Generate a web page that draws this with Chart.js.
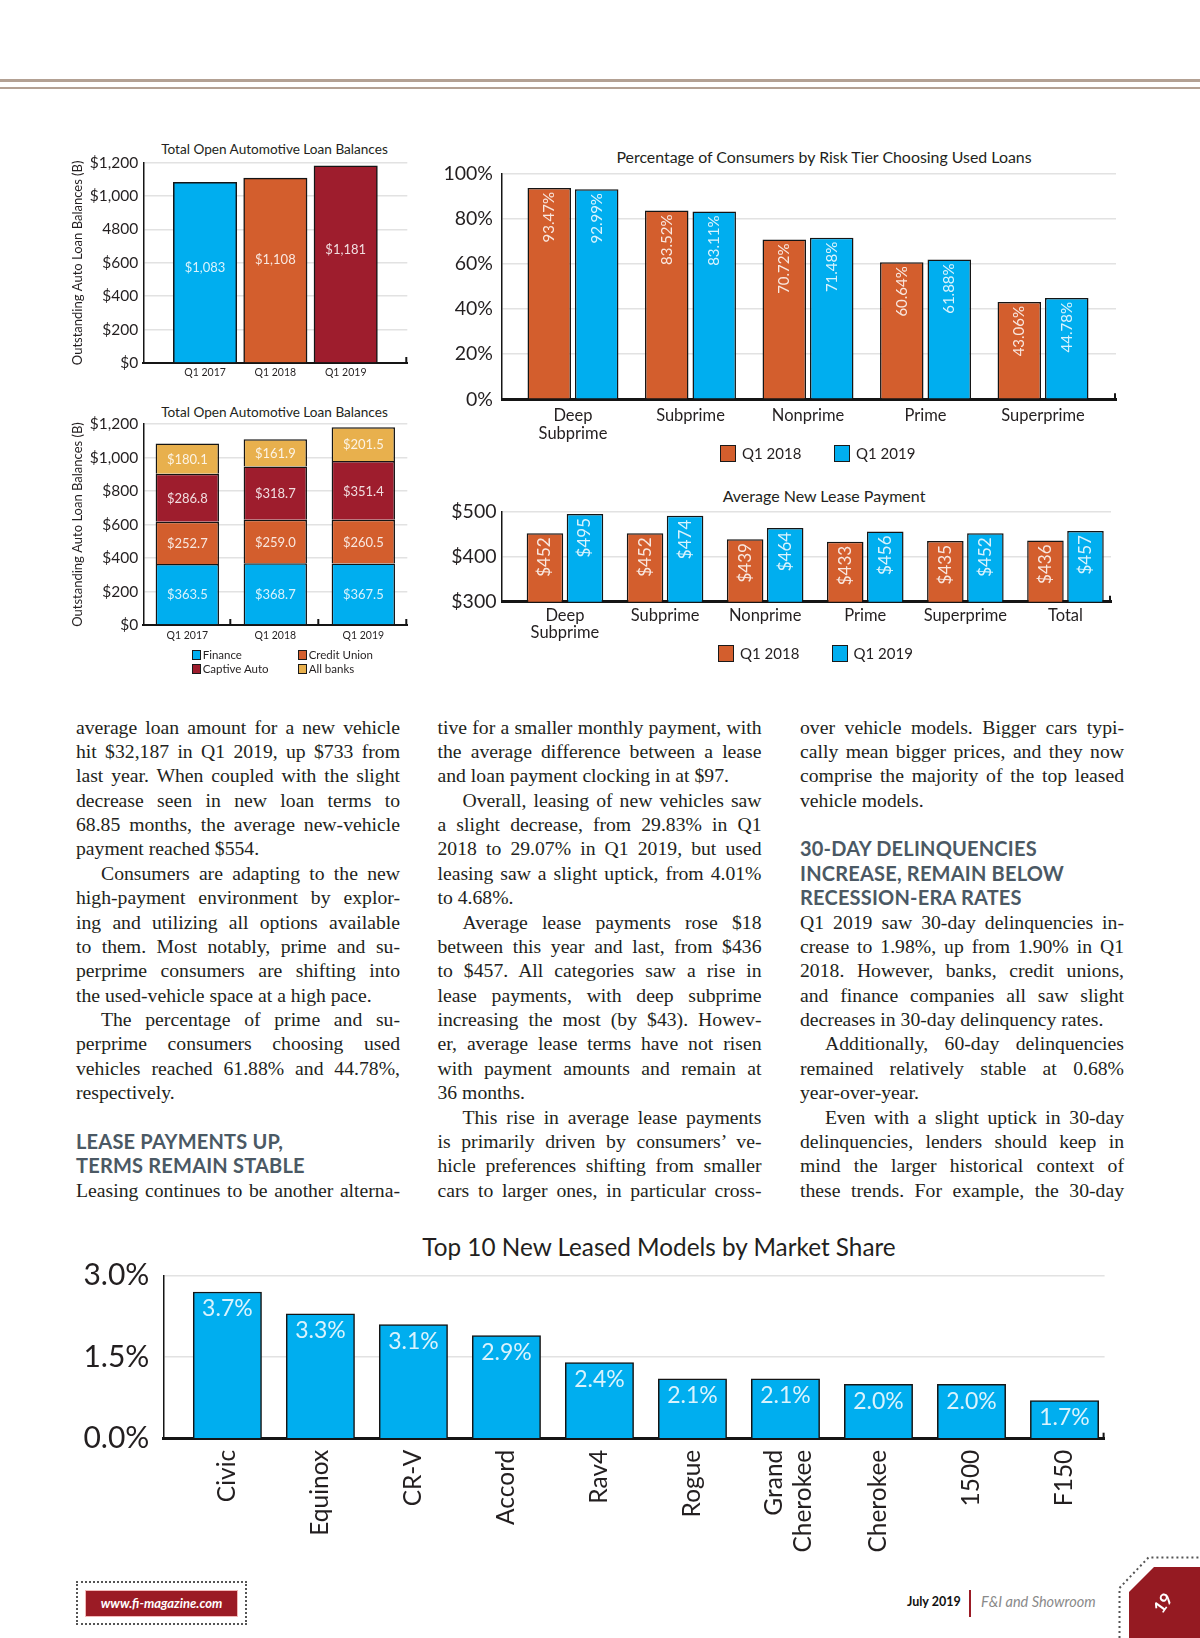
<!DOCTYPE html>
<html>
<head>
<meta charset="utf-8">
<title>F&amp;I and Showroom – July 2019 – page 19</title>
<script src="https://cdn.jsdelivr.net/npm/chart.js@4.4.1/dist/chart.umd.min.js"></script>
<style>
  body { margin: 0; background: #fff; }
  #page { position: relative; width: 1200px; height: 1638px; overflow: hidden; background: #fff; color: #231f20; font-family: Lato, sans-serif; }
  canvas { position: absolute; }
  .rule { position: absolute; left: 0; width: 1200px; background: #b3a194; }
  .ctitle { position: absolute; text-align: center; white-space: nowrap; color: #231f20; }
  .lg { position: absolute; white-space: nowrap; color: #231f20; }
  .lg i { position: absolute; border: 1.5px solid #1a1a1a; box-sizing: border-box; }
  .col { position: absolute; top: 714.5px; width: 324px; font-family: 'Liberation Serif', serif; font-size: 19.7px; line-height: 24.38px; color: #231f20; }
  .col div { white-space: nowrap; height: 24.38px; }
  .j { text-align: justify; text-align-last: justify; }
  .in { text-indent: 25px; }
  .h { font-family: Lato, sans-serif; font-weight: 700; font-size: 20px; color: #4b5964; letter-spacing: 0.2px; }
  .site { position: absolute; left: 76px; top: 1581px; width: 171px; height: 44px; border: 2px dotted #555; box-sizing: border-box; }
  .site span { position: absolute; left: 8px; top: 8px; width: 151px; height: 25px; background: #9b1b25; outline: 1px solid #f2b8b8; color: #fff; font: italic 700 13px Lato, sans-serif; line-height: 25px; text-align: center; }
  .issue { position: absolute; top: 1594px; font: 700 12.5px Lato, sans-serif; color: #111; }
  .mag { position: absolute; left: 981px; top: 1593px; font: italic 14.5px Lato, sans-serif; color: #8a8a8a; }
</style>
</head>
<body>
<div id="page">
  <div class="rule" style="top:79px;height:2.5px"></div>
  <div class="rule" style="top:87px;height:1.5px"></div>

  <div class="ctitle" style="left:74.5px;width:400px;top:140.5px;font-size:13.6px;line-height:17px">Total Open Automotive Loan Balances</div>
  <div class="ctitle" style="left:74.5px;width:400px;top:403.5px;font-size:13.6px;line-height:17px">Total Open Automotive Loan Balances</div>
  <div class="ctitle" style="left:524px;width:600px;top:146.7px;font-size:15.9px;line-height:20px">Percentage of Consumers by Risk Tier Choosing Used Loans</div>
  <div class="ctitle" style="left:524px;width:600px;top:486px;font-size:16px;line-height:20px">Average New Lease Payment</div>
  <div class="ctitle" style="left:359px;width:600px;top:1232px;font-size:24.3px;line-height:30px">Top 10 New Leased Models by Market Share</div>

  <canvas id="loanTotal"></canvas>
  <canvas id="loanStack"></canvas>
  <canvas id="usedLoans"></canvas>
  <canvas id="leasePay"></canvas>
  <canvas id="topModels"></canvas>

  <div class="col" style="left:76px">
    <div class="j">average loan amount for a new vehicle</div>
    <div class="j">hit $32,187 in Q1 2019, up $733 from</div>
    <div class="j">last year. When coupled with the slight</div>
    <div class="j">decrease seen in new loan terms to</div>
    <div class="j">68.85 months, the average new-vehicle</div>
    <div>payment reached $554.</div>
    <div class="j in">Consumers are adapting to the new</div>
    <div class="j">high-payment environment by explor-</div>
    <div class="j">ing and utilizing all options available</div>
    <div class="j">to them. Most notably, prime and su-</div>
    <div class="j">perprime consumers are shifting into</div>
    <div>the used-vehicle space at a high pace.</div>
    <div class="j in">The percentage of prime and su-</div>
    <div class="j">perprime consumers choosing used</div>
    <div class="j">vehicles reached 61.88% and 44.78%,</div>
    <div>respectively.</div>
    <div>&nbsp;</div>
    <div class="h">LEASE PAYMENTS UP,</div>
    <div class="h">TERMS REMAIN STABLE</div>
    <div class="j">Leasing continues to be another alterna-</div>
  </div>

  <div class="col" style="left:437.5px">
    <div class="j">tive for a smaller monthly payment, with</div>
    <div class="j">the average difference between a lease</div>
    <div>and loan payment clocking in at $97.</div>
    <div class="j in">Overall, leasing of new vehicles saw</div>
    <div class="j">a slight decrease, from 29.83% in Q1</div>
    <div class="j">2018 to 29.07% in Q1 2019, but used</div>
    <div class="j">leasing saw a slight uptick, from 4.01%</div>
    <div>to 4.68%.</div>
    <div class="j in">Average lease payments rose $18</div>
    <div class="j">between this year and last, from $436</div>
    <div class="j">to $457. All categories saw a rise in</div>
    <div class="j">lease payments, with deep subprime</div>
    <div class="j">increasing the most (by $43). Howev-</div>
    <div class="j">er, average lease terms have not risen</div>
    <div class="j">with payment amounts and remain at</div>
    <div>36 months.</div>
    <div class="j in">This rise in average lease payments</div>
    <div class="j">is primarily driven by consumers’ ve-</div>
    <div class="j">hicle preferences shifting from smaller</div>
    <div class="j">cars to larger ones, in particular cross-</div>
  </div>

  <div class="col" style="left:800px">
    <div class="j">over vehicle models. Bigger cars typi-</div>
    <div class="j">cally mean bigger prices, and they now</div>
    <div class="j">comprise the majority of the top leased</div>
    <div>vehicle models.</div>
    <div>&nbsp;</div>
    <div class="h">30-DAY DELINQUENCIES</div>
    <div class="h">INCREASE, REMAIN BELOW</div>
    <div class="h">RECESSION-ERA RATES</div>
    <div class="j">Q1 2019 saw 30-day delinquencies in-</div>
    <div class="j">crease to 1.98%, up from 1.90% in Q1</div>
    <div class="j">2018. However, banks, credit unions,</div>
    <div class="j">and finance companies all saw slight</div>
    <div>decreases in 30-day delinquency rates.</div>
    <div class="j in">Additionally, 60-day delinquencies</div>
    <div class="j">remained relatively stable at 0.68%</div>
    <div>year-over-year.</div>
    <div class="j in">Even with a slight uptick in 30-day</div>
    <div class="j">delinquencies, lenders should keep in</div>
    <div class="j">mind the larger historical context of</div>
    <div class="j">these trends. For example, the 30-day</div>
  </div>

  <div class="site"><span>www.fi-magazine.com</span></div>
  <div class="issue" style="left:907px">July 2019</div>
  <div style="position:absolute;left:969px;top:1590px;width:2px;height:27px;background:#9b1b25"></div>
  <div class="mag">F&amp;I and Showroom</div>
  <svg style="position:absolute;left:0;top:0" width="1200" height="1638">
    <polygon points="1129,1638 1129,1592 1154,1567 1200,1567 1200,1638" fill="#951a22"/>
    <polyline points="1119.5,1638 1119.5,1588 1148.5,1557.5 1200,1557.5" fill="none" stroke="#555" stroke-width="2" stroke-dasharray="2 3"/>
    <text x="1163" y="1609" fill="#fff" font-family="Lato" font-weight="700" font-size="17" text-anchor="middle" transform="rotate(-55 1163 1603)">19</text>
  </svg>
</div>

<script>
// Total open automotive loan balances ($B)
const years = ['Q1 2017', 'Q1 2018', 'Q1 2019'];
const loanTotals = [1083, 1108, 1181];
const loanTicksTotal = ['$0', '$200', '$400', '$600', '4800', '$1,000', '$1,200'];
const loanTicksStack = ['$0', '$200', '$400', '$600', '$800', '$1,000', '$1,200'];

// same totals split by lender type
const lenders = ['Finance', 'Credit Union', 'Captive Auto', 'All banks'];
const finance = [363.5, 368.7, 367.5];
const creditUnion = [252.7, 259.0, 260.5];
const captiveAuto = [286.8, 318.7, 351.4];
const allBanks = [180.1, 161.9, 201.5];

// used loans share by risk tier
const quarters = ['Q1 2018', 'Q1 2019'];
const tiers = [['Deep', 'Subprime'], 'Subprime', 'Nonprime', 'Prime', 'Superprime'];
const used2018 = [93.47, 83.52, 70.72, 60.64, 43.06];
const used2019 = [92.99, 83.11, 71.48, 61.88, 44.78];
const usedTicks = ['0%', '20%', '40%', '60%', '80%', '100%'];

// average new lease payment (bar heights as drawn, printed labels as shown)
const leaseTiers = [['Deep', 'Subprime'], 'Subprime', 'Nonprime', 'Prime', 'Superprime', 'Total'];
const lease2018 = [452, 452, 439, 433, 435, 436];
const lease2019 = [495, 491, 464, 456, 452, 457];
const lease2019Printed = ['$495', '$474', '$464', '$456', '$452', '$457'];
const leaseTicks = ['$300', '$400', '$500'];

// top 10 leased models (bar heights)
const models = ['Civic', 'Equinox', 'CR-V', 'Accord', 'Rav4', 'Rogue', ['Grand', 'Cherokee'], 'Cherokee', '1500', 'F150'];
const shareBars = [2.7, 2.3, 2.1, 1.9, 1.4, 1.1, 1.1, 1.0, 1.0, 0.7];
const sharePrinted = ['3.7%', '3.3%', '3.1%', '2.9%', '2.4%', '2.1%', '2.1%', '2.0%', '2.0%', '1.7%'];
const shareTicks = ['0.0%', '1.5%', '3.0%'];

const BLUE = '#00aeef', ORANGE = '#d35e2d', MAROON = '#9e1d2d', GOLD = '#e8b04d';
const INK = '#231f20', GRID = '#e2e2e2', EDGE = '#151515';
const PALE = 'rgba(255,255,255,0.85)';

Chart.defaults.font.family = 'Lato';
Chart.defaults.color = INK;
Chart.defaults.animation = false;
Chart.defaults.responsive = false;
Chart.defaults.plugins.legend.display = false;
Chart.defaults.plugins.tooltip.enabled = false;

// sizes the canvas so the plot area lands on the printed one
// (chart.js puts half a tick label + tick padding above the top gridline)
function mount(id, plotLeft, plotTop, plotRight, plotBottom, axisW, axisH, tickSize, tickPad) {
    const padTop = tickSize * 0.6 + tickPad + 0.5;
    const left = plotLeft - axisW;
    const top = Math.round(plotTop - padTop);
    const c = document.getElementById(id);
    c.width = Math.round(plotRight - left + 6);
    c.height = Math.round(plotBottom - top + axisH);
    c.style.left = left + 'px';
    c.style.top = top + 'px';
    return {
        el: c,
        padding: { top: plotTop - top, right: c.width - (plotRight - left), left: 0, bottom: 0 },
        axisH: c.height - (plotBottom - top)
    };
}

// writes the value text on each bar + the little up-ticks on the base line
function barText(cfg) {
    const shift = i => Array.isArray(cfg.offset) ? cfg.offset[i] : cfg.offset;
    return {
        id: 'barText',
        afterDatasetsDraw(chart) {
            const ctx = chart.ctx;
            const area = chart.chartArea;
            ctx.save();
            ctx.font = cfg.font;
            ctx.fillStyle = PALE;
            chart.data.datasets.forEach((ds, d) => {
                chart.getDatasetMeta(d).data.forEach((bar, i) => {
                    const txt = cfg.text[d][i];
                    if (cfg.rotate) {
                        ctx.save();
                        ctx.translate(bar.x, bar.y + shift(i));
                        ctx.rotate(-Math.PI / 2);
                        ctx.textAlign = 'right';
                        ctx.textBaseline = 'middle';
                        ctx.fillText(txt, 0, 0);
                        ctx.restore();
                    } else {
                        const y = cfg.middle ? (bar.y + bar.base) / 2 : bar.y;
                        ctx.textAlign = 'center';
                        ctx.textBaseline = 'middle';
                        ctx.fillText(txt, bar.x, y + shift(i));
                    }
                });
            });
            ctx.strokeStyle = EDGE;
            ctx.lineWidth = 2;
            (cfg.ticks || [1]).forEach(f => {
                const x = area.left + f * (area.right - area.left) - 1;
                ctx.beginPath();
                ctx.moveTo(x, area.bottom);
                ctx.lineTo(x, area.bottom - 6);
                ctx.stroke();
            });
            ctx.restore();
        }
    };
}

// linear x axis with one slot per category so the bars sit where the print has them;
// two-line rotated labels get nudged back so both lines straddle the bar
function slotAxis(names, min, max, height, font, pad, rotation, border) {
    const nudge = rotation ? 0.118 : 0;
    return {
        type: 'linear', min: min, max: max, offset: false,
        afterBuildTicks: s => {
            s.ticks = names.map((n, i) => ({ value: Array.isArray(n) ? i - nudge : i }));
        },
        afterFit: s => { s.height = height; },
        grid: { display: false, drawTicks: false, offset: false },
        border: { display: true, color: EDGE, width: border },
        ticks: {
            autoSkip: false, minRotation: rotation, maxRotation: rotation,
            padding: pad, font: font, color: INK,
            callback: v => names[Math.round(v)]
        }
    };
}

function valueAxis(min, max, step, labels, width, font, pad) {
    return {
        min: min, max: max,
        afterFit: s => { s.width = width; },
        grid: { color: GRID, lineWidth: 1.5, drawTicks: false },
        border: { display: true, color: EDGE, width: 1.5 },
        ticks: { stepSize: step, padding: pad, font: font, color: INK, callback: (v, i) => labels[i] }
    };
}

const axisTitle = {
    display: true, text: 'Outstanding Auto Loan Balances (B)',
    font: { size: 13 }, color: INK, padding: { top: 8.5, bottom: 0 }
};

const xy = arr => arr.map((v, i) => ({ x: i, y: v }));

// chart 1 - totals
const f1 = mount('loanTotal', 143.3, 162.7, 407.3, 363, 81.3, 22, 15.5, 5);
const totalY = valueAxis(0, 1200, 200, loanTicksTotal, 81.3, { size: 15.5 }, 5);
totalY.title = axisTitle;
new Chart(f1.el, {
    type: 'bar',
    data: {
        datasets: [{
            data: xy(loanTotals),
            backgroundColor: [BLUE, ORANGE, MAROON],
            borderColor: EDGE, borderWidth: 1.5,
            barThickness: 63.4
        }]
    },
    options: {
        layout: { padding: f1.padding },
        scales: {
            x: slotAxis(years, -0.878, 2.876, f1.axisH, { size: 10.5 }, 3.5, 0, 2),
            y: totalY
        }
    },
    plugins: [barText({
        text: [loanTotals.map(v => '$' + v.toLocaleString('en-US'))],
        font: '13px Lato', middle: true, offset: [-4, -10, -14]
    })]
});

// chart 2 - by lender
const lenderSeries = [finance, creditUnion, captiveAuto, allBanks];
const lenderColors = [BLUE, ORANGE, MAROON, GOLD];
const f2 = mount('loanStack', 143.3, 424, 407.3, 625, 81.3, 22, 15.5, 5);
const stackY = valueAxis(0, 1200, 200, loanTicksStack, 81.3, { size: 15.5 }, 5);
stackY.title = axisTitle;
stackY.stacked = true;
new Chart(f2.el, {
    type: 'bar',
    data: {
        labels: years,
        datasets: lenderSeries.map((s, k) => ({
            label: lenders[k], data: s, backgroundColor: lenderColors[k],
            borderColor: EDGE, borderWidth: 1.5,
            barPercentage: 0.72, categoryPercentage: 1
        }))
    },
    options: {
        layout: { padding: f2.padding },
        scales: {
            x: {
                stacked: true,
                afterFit: s => { s.height = f2.axisH; },
                grid: { display: false, drawTicks: false },
                border: { display: true, color: EDGE, width: 2 },
                ticks: { padding: 4, font: { size: 10.5 }, color: INK }
            },
            y: stackY
        }
    },
    plugins: [barText({
        text: lenderSeries.map(s => s.map(v => '$' + v.toFixed(1))),
        font: '13px Lato', middle: true, offset: 1, ticks: [1 / 3, 2 / 3, 1]
    })]
});

// chart 3 - used loans by tier
const f3 = mount('usedLoans', 502, 173.3, 1116, 399.3, 65, 45, 19.5, 9);
new Chart(f3.el, {
    type: 'bar',
    data: {
        datasets: [used2018, used2019].map((s, k) => ({
            label: quarters[k], data: xy(s), backgroundColor: [ORANGE, BLUE][k],
            borderColor: EDGE, borderWidth: 1.5,
            barPercentage: 0.916, categoryPercentage: 0.808
        }))
    },
    options: {
        layout: { padding: f3.padding },
        scales: {
            x: slotAxis(tiers, -0.604, 4.621, f3.axisH, { size: 16.5, lineHeight: 1.05 }, 8, 0, 3),
            y: valueAxis(0, 100, 20, usedTicks, 65, { size: 19.5 }, 9)
        }
    },
    plugins: [barText({
        text: [used2018, used2019].map(s => s.map(v => v.toFixed(2) + '%')),
        font: '15px Lato', rotate: true, offset: 4
    })]
});

// chart 4 - lease payments
const f4 = mount('leasePay', 502, 511.7, 1111, 601.7, 65, 46, 19.5, 5.5);
new Chart(f4.el, {
    type: 'bar',
    data: {
        datasets: [lease2018, lease2019].map((s, k) => ({
            label: quarters[k], data: xy(s), backgroundColor: [ORANGE, BLUE][k],
            borderColor: EDGE, borderWidth: 1.5,
            barPercentage: 0.9125, categoryPercentage: 0.8
        }))
    },
    options: {
        layout: { padding: f4.padding },
        scales: {
            x: slotAxis(leaseTiers, -0.629, 5.455, f4.axisH, { size: 16.5, lineHeight: 1.0 }, 6, 0, 3),
            y: valueAxis(300, 500, 100, leaseTicks, 65, { size: 19.5 }, 5.5)
        }
    },
    plugins: [barText({
        text: [lease2018.map(v => '$' + v), lease2019Printed],
        font: '17px Lato', rotate: true, offset: 4
    })]
});

// chart 5 - top 10 leased models
const f5 = mount('topModels', 163.4, 1275.7, 1104.6, 1438.7, 85.4, 120, 30, 14);
new Chart(f5.el, {
    type: 'bar',
    data: {
        datasets: [{
            label: 'Market share', data: xy(shareBars), backgroundColor: BLUE,
            borderColor: EDGE, borderWidth: 1.5,
            barThickness: 68.3
        }]
    },
    options: {
        layout: { padding: f5.padding },
        scales: {
            x: slotAxis(models, -0.688, 9.431, f5.axisH, { size: 24.5, lineHeight: 1.15 }, 11, 90, 3),
            y: valueAxis(0, 3, 1.5, shareTicks, 85.4, { size: 30 }, 14)
        }
    },
    plugins: [barText({ text: [sharePrinted], font: '23px Lato', offset: 17 })]
});

// html legends
const page = document.getElementById('page');
function legendItem(name, color, boxX, midY, box, size, gap) {
    const el = document.createElement('div');
    el.className = 'lg';
    const lh = size * 1.2;
    el.style.left = boxX + 'px';
    el.style.top = (midY - lh / 2) + 'px';
    el.style.font = size + 'px Lato';
    el.style.lineHeight = lh + 'px';
    el.style.paddingLeft = (box + gap) + 'px';
    el.innerHTML = '<i style="left:0;top:' + ((lh - box) / 2) + 'px;width:' + box + 'px;height:' + (box + 1) + 'px;background:' + color + '"></i>' + name;
    page.appendChild(el);
}
legendItem(lenders[0], lenderColors[0], 191.7, 655, 9, 11.5, 2);
legendItem(lenders[1], lenderColors[1], 297.7, 655, 9, 11.5, 2);
legendItem(lenders[2], lenderColors[2], 191.7, 669, 9, 11.5, 2);
legendItem(lenders[3], lenderColors[3], 297.7, 669, 9, 11.5, 2);
legendItem(quarters[0], ORANGE, 720, 452.7, 16, 15, 6);
legendItem(quarters[1], BLUE, 834, 452.7, 16, 15, 6);
legendItem(quarters[0], ORANGE, 718, 652.7, 16, 15, 6);
legendItem(quarters[1], BLUE, 831.5, 652.7, 16, 15, 6);
</script>
</body>
</html>
